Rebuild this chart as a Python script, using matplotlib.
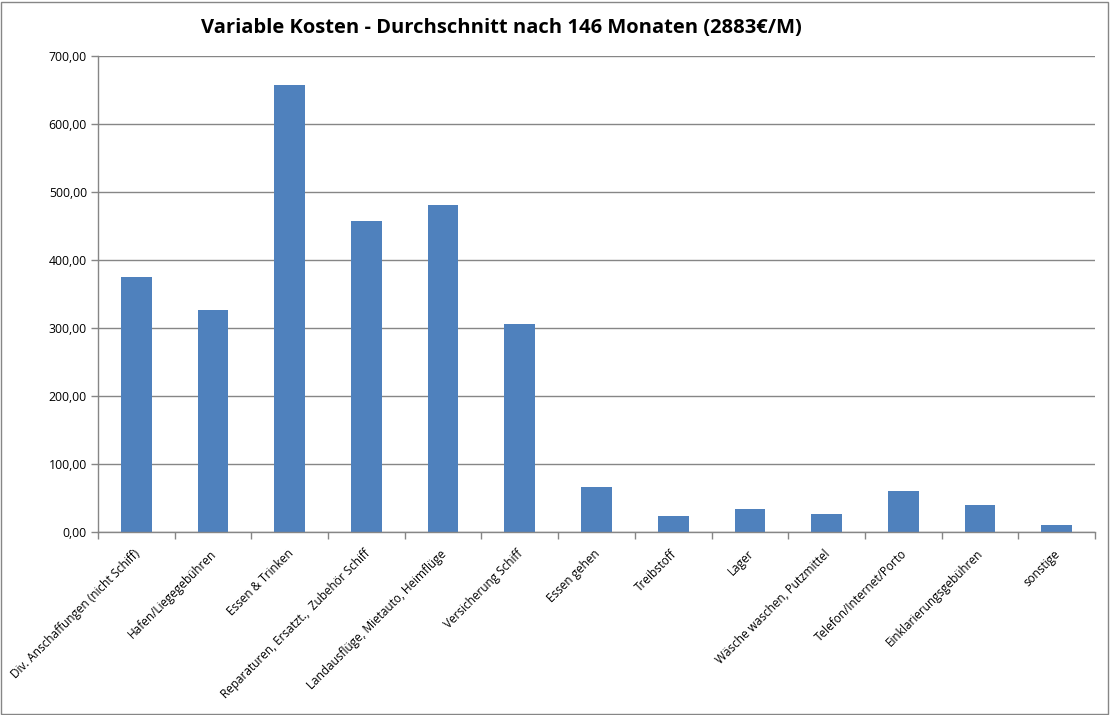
import matplotlib
matplotlib.use("Agg")
import matplotlib.pyplot as plt
from matplotlib.patches import Rectangle
from matplotlib.ticker import FuncFormatter, FixedLocator
from matplotlib.transforms import ScaledTranslation
import numpy as np

categories = [
    "Div. Anschaffungen (nicht Schiff)",
    "Hafen/Liegegebühren",
    "Essen & Trinken",
    "Reparaturen, Ersatzt.,  Zubehör Schiff",
    "Landausflüge, Mietauto, Heimflüge",
    "Versicherung Schiff",
    "Essen gehen",
    "Treibstoff",
    "Lager",
    "Wäsche waschen, Putzmittel",
    "Telefon/Internet/Porto",
    "Einklarierungsgebühren",
    "sonstige",
]
values = [375.5, 327, 658, 458, 481.5, 306, 66, 23.5, 34, 26.5, 60, 40, 10]
y_ticks = [0, 100, 200, 300, 400, 500, 600, 700]
title = "Variable Kosten - Durchschnitt nach 146 Monaten (2883€/M)"

fam = ["Open Sans", "DejaVu Sans"]
grey = "#868686"

fig = plt.figure(figsize=(11.1, 7.15), dpi=100)
ax = fig.add_axes([98/1110, 183/715, (1095-98)/1110, (532-56)/715])

x = np.arange(len(categories))
ax.bar(x, values, width=0.4, color="#4F81BD", zorder=3)

ax.set_xlim(-0.5, len(categories) - 0.5)
ax.set_ylim(0, 700)
ax.set_yticks(y_ticks)
ax.yaxis.set_major_formatter(FuncFormatter(lambda v, p: f"{v:.2f}".replace(".", ",")))
ax.grid(axis="y", color=grey, linewidth=1, zorder=0)

for s in ["top", "right"]:
    ax.spines[s].set_visible(False)
for s in ["left", "bottom"]:
    ax.spines[s].set_color(grey)
    ax.spines[s].set_linewidth(1)
    ax.spines[s].set_zorder(4)

ax.set_xticks(x)
ax.set_xticklabels(categories, rotation=45, ha="right", rotation_mode="anchor",
                   fontsize=8.5, family=fam)
ax.tick_params(axis="x", which="major", length=0, pad=11)
shift = ScaledTranslation(-3/100, 0, fig.dpi_scale_trans)
for lab in ax.get_xticklabels():
    lab.set_transform(lab.get_transform() + shift)
ax.xaxis.set_minor_locator(FixedLocator(np.arange(-0.5, len(categories), 1.0)))
ax.tick_params(axis="x", which="minor", length=5, color=grey, width=1)
ax.tick_params(axis="y", length=5, color=grey, width=1, labelsize=8.8, pad=3)
for lab in ax.get_yticklabels():
    lab.set_family(fam)

fig.text(501/1110, 1 - 28/715, title, ha="center", va="center",
         fontsize=14.5, fontweight="bold", family=fam)

fig.patches.append(Rectangle((1/1110, 1/715), 1107/1110, 712/715, transform=fig.transFigure,
                             fill=False, edgecolor=grey, linewidth=1))

fig.savefig("out.png", dpi=100, facecolor="white")
